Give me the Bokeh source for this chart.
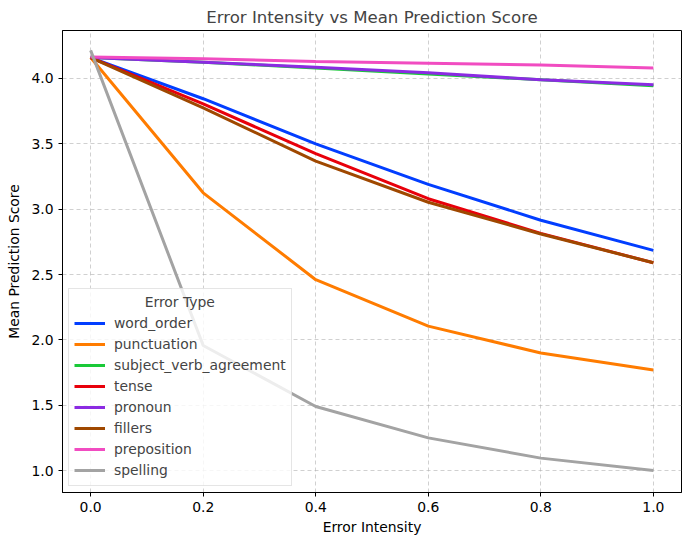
from bokeh.plotting import figure
from bokeh.models import Legend, LegendItem, PrintfTickFormatter, FixedTicker, Range1d
from bokeh.embed import file_html
from bokeh.resources import INLINE

intensity = [0.0, 0.2, 0.4, 0.6, 0.8, 1.0]
error_types = ["word_order", "punctuation", "subject_verb_agreement", "tense",
               "pronoun", "fillers", "preposition", "spelling"]
word_order = [4.16, 3.845, 3.50, 3.19, 2.915, 2.685]
punctuation = [4.16, 3.125, 2.46, 2.105, 1.90, 1.77]
subject_verb_agreement = [4.16, 4.125, 4.08, 4.035, 3.99, 3.945]
tense = [4.16, 3.805, 3.425, 3.08, 2.815, 2.59]
pronoun = [4.16, 4.125, 4.085, 4.043, 3.99, 3.952]
fillers = [4.16, 3.775, 3.367, 3.053, 2.81, 2.59]
preposition = [4.165, 4.15, 4.13, 4.117, 4.103, 4.08]
spelling = [4.215, 1.957, 1.49, 1.25, 1.095, 1.0]
series = [word_order, punctuation, subject_verb_agreement, tense, pronoun,
          fillers, preposition, spelling]
colors = ["#023eff", "#ff7c00", "#1ac938", "#e8000b", "#8b2be2", "#9f4800",
          "#f14cc1", "#a3a3a3"]

FONT = "DejaVu Sans"
SZ = "13.9px"

p = figure(width=690, height=544, output_backend="svg", toolbar_location=None,
           x_range=Range1d(-0.05, 1.05), y_range=Range1d(0.832, 4.367),
           min_border_left=62, min_border_right=9, min_border_top=30,
           min_border_bottom=52)

p.title.text = "Error Intensity vs Mean Prediction Score"
p.title.align = "center"
p.title.text_font = FONT
p.title.text_font_style = "normal"
p.title.text_font_size = "16.6px"
p.title.standoff = 7

p.outline_line_color = "black"
p.outline_line_width = 1
p.outline_line_alpha = 1.0

for ax in (p.xaxis[0], p.yaxis[0]):
    ax.axis_line_color = "black"
    ax.major_tick_in = 0
    ax.major_tick_out = 4
    ax.minor_tick_line_color = None
    ax.major_tick_line_color = "black"
    ax.major_label_text_font = FONT
    ax.major_label_text_font_size = SZ
    ax.major_label_text_color = "black"
    ax.axis_label_text_font = FONT
    ax.axis_label_text_font_size = SZ
    ax.axis_label_text_font_style = "normal"
    ax.axis_label_text_color = "black"
    ax.formatter = PrintfTickFormatter(format="%.1f")

p.xaxis[0].ticker = FixedTicker(ticks=[0.0, 0.2, 0.4, 0.6, 0.8, 1.0])
p.yaxis[0].ticker = FixedTicker(ticks=[1.0, 1.5, 2.0, 2.5, 3.0, 3.5, 4.0])
p.xaxis.axis_label = "Error Intensity"
p.yaxis.axis_label = "Mean Prediction Score"
p.xaxis.axis_label_standoff = 4
p.yaxis.axis_label_standoff = 6

p.grid.grid_line_color = "#b0b0b0"
p.grid.grid_line_alpha = 0.6
p.grid.grid_line_dash = "4 3"
p.grid.grid_line_width = 1

items = []
for name, ys, c in zip(error_types, series, colors):
    r = p.line(intensity, ys, line_color=c, line_width=3)
    items.append(LegendItem(label=name, renderers=[r]))

legend = Legend(items=items, location="bottom_left")
legend.title = "\u00a0" * 16 + "Error Type"
legend.title_text_font = FONT
legend.title_text_font_size = SZ
legend.title_text_font_style = "normal"
legend.title_standoff = 3
legend.label_text_font = FONT
legend.label_text_font_size = SZ
legend.glyph_width = 31
legend.glyph_height = 20
legend.label_height = 20
legend.label_standoff = 9
legend.spacing = 1
legend.padding = 5
legend.margin = 6
legend.border_line_color = "#cccccc"
legend.border_line_width = 1
legend.background_fill_alpha = 0.8
p.add_layout(legend, "center")

open("out.html", "w").write(file_html(p, INLINE))
